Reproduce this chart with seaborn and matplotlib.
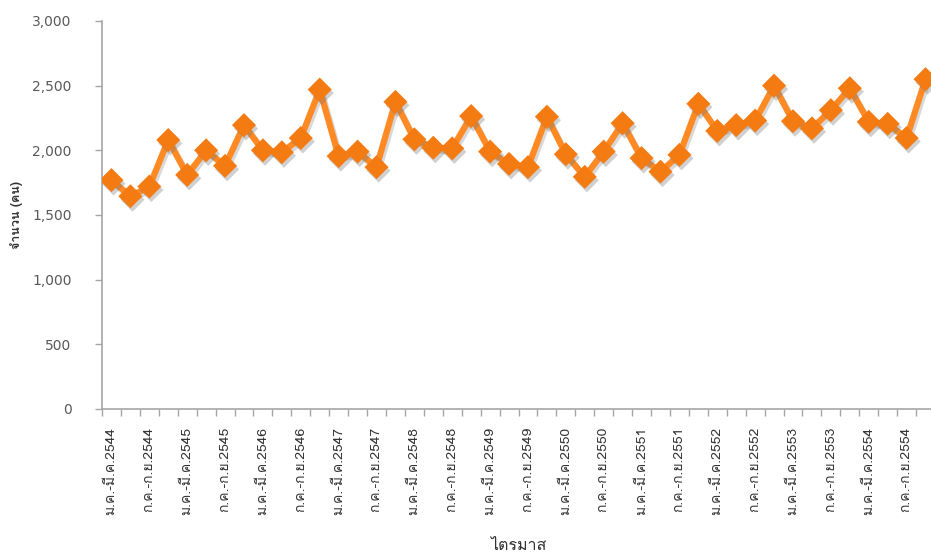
import matplotlib
matplotlib.use("Agg")
import matplotlib.pyplot as plt
import matplotlib.patheffects as pe
import numpy as np
import pandas as pd
import seaborn as sns

# Quarterly counts, Q1 2544 .. Q4 2554 (Thai Buddhist years)
years = list(range(2544, 2555))
quarters = ["ม.ค.-มี.ค.", "เม.ย.-มิ.ย.", "ก.ค.-ก.ย.", "ต.ค.-ธ.ค."]
counts = [1770, 1645, 1720, 2080, 1810, 2000, 1880, 2195, 2000, 1985, 2095,
          2470, 1955, 1990, 1870, 2375, 2085, 2020, 2015, 2265, 1990, 1895,
          1870, 2260, 1970, 1795, 1990, 2210, 1940, 1835, 1965, 2360, 2150,
          2195, 2230, 2500, 2225, 2170, 2310, 2480, 2220, 2205, 2095, 2550]
period_labels = [f"{q}{y}" for y in years for q in quarters]
y_ticks = [0, 500, 1000, 1500, 2000, 2500, 3000]
x_title = "ไตรมาส"
y_title = "จำนวน (คน)"

df = pd.DataFrame({"idx": np.arange(len(counts)), "count": counts,
                   "period": period_labels})

sns.set_style("white")
plt.rcParams["font.family"] = ["Loma", "DejaVu Sans"]

W, H = 931, 559
fig = plt.figure(figsize=(W / 100, H / 100), dpi=100)
ax = fig.add_axes([102 / W, (H - 409) / H, 833 / W, 388 / H])

line_color = "#FF8A24"
marker_color = "#F47A12"

sns.lineplot(data=df, x="idx", y="count", ax=ax, color=line_color,
             linewidth=4.5, zorder=2)
ln = ax.lines[-1]
ln.set_solid_joinstyle("round")
ln.set_path_effects([
    pe.SimpleLineShadow(offset=(1.5, -2), shadow_color="#808080", alpha=0.3),
    pe.Normal(),
])
sns.scatterplot(data=df, x="idx", y="count", ax=ax, marker="D", s=150,
                color=marker_color, edgecolor="none", zorder=3,
                legend=False)
ax.collections[-1].set_path_effects([
    pe.SimplePatchShadow(offset=(1.5, -2.5), shadow_rgbFace="#7a7a7a",
                         alpha=0.35),
    pe.Normal(),
])

ax.set_xlim(-0.5, len(counts) - 0.5)
ax.set_ylim(0, 3000)
ax.set_yticks(y_ticks)
ax.set_yticklabels([f"{v:,}" for v in y_ticks], family=["DejaVu Sans"])

# labels on every other quarter, tick marks on category boundaries
ax.set_xticks(np.arange(0, len(counts), 2))
ax.set_xticklabels(period_labels[::2], rotation=90, fontsize=10,
                   color="#333333")
ax.set_xticks(np.arange(-0.5, len(counts), 1), minor=True)
ax.tick_params(axis="x", which="major", bottom=False, length=0, pad=13)
ax.tick_params(axis="x", which="minor", bottom=True, length=5, width=1,
               color="#A6A6A6", direction="out")
ax.tick_params(axis="y", left=True, length=5, width=1, color="#A6A6A6",
               direction="out", labelsize=10, labelcolor="#595959", pad=17)

for side in ("top", "right"):
    ax.spines[side].set_visible(False)
for side in ("left", "bottom"):
    ax.spines[side].set_color("#A6A6A6")
    ax.spines[side].set_linewidth(1.2)

ax.set_xlabel("")
ax.set_ylabel("")
fig.text(518 / W, 1 - 546 / H, x_title, ha="center", va="center",
         fontsize=11.5, color="#333333")
fig.text(16 / W, 1 - 215 / H, y_title, ha="center", va="center",
         rotation=90, fontsize=9, fontweight="bold", color="#333333")

fig.savefig("out.png", dpi=100)
